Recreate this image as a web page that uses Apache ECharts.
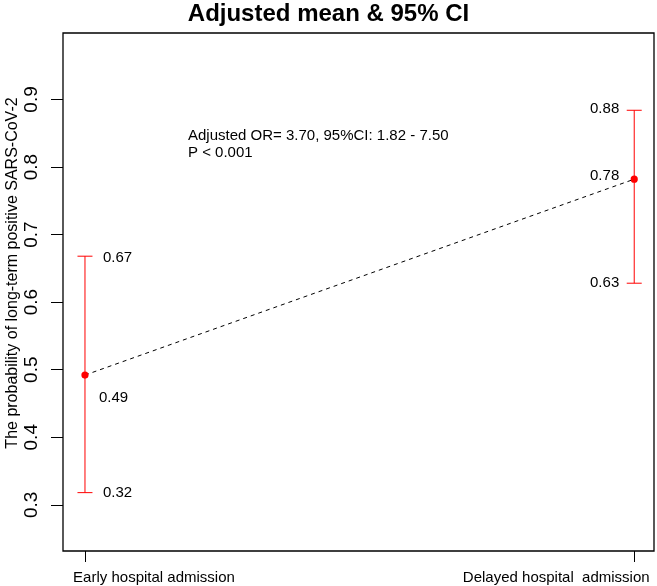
<!DOCTYPE html>
<html>
<head>
<meta charset="utf-8">
<script src="https://cdn.jsdelivr.net/npm/echarts@6/dist/echarts.min.js"></script>
<style>html,body{margin:0;padding:0;background:#fff}#c{width:657px;height:586px}</style>
</head>
<body>
<div id="c"></div>
<script>
// ---- data ----
const categories = ['Early hospital admission', 'Delayed hospital  admission'];
const categoryPos = [1, 2];
const means = [0.492, 0.782];
const lowers = [0.318, 0.628];
const uppers = [0.668, 0.884];
const yTicks = [0.3, 0.4, 0.5, 0.6, 0.7, 0.8, 0.9];
const annotation = ['Adjusted OR= 3.70, 95%CI: 1.82 - 7.50', 'P < 0.001'];
const titleText = 'Adjusted mean & 95% CI';
const yTitle = 'The probability of long-term positive SARS-CoV-2';

// ---- styling ----
const labelSide = ['right', 'left'];
const FONT = '"Liberation Sans", Arial, Helvetica, sans-serif';
const RED = '#ff0000';

const chart = echarts.init(document.getElementById('c'), null, {renderer: 'canvas'});

const errData = categoryPos.map((x, i) => [x, means[i], lowers[i], uppers[i], i]);

function renderErr(params, api) {
  const x = api.value(0), m = api.value(1), lo = api.value(2), hi = api.value(3), i = api.value(4);
  const pm = api.coord([x, m]);
  const pl = api.coord([x, lo]);
  const ph = api.coord([x, hi]);
  const cw = 7.5;
  const side = labelSide[i];
  const ls = {stroke: RED, lineWidth: 1};
  const children = [
    {type: 'line', shape: {x1: pm[0], y1: ph[1], x2: pm[0], y2: pl[1]}, style: ls},
    {type: 'line', shape: {x1: pm[0] - cw, y1: ph[1], x2: pm[0] + cw, y2: ph[1]}, style: ls},
    {type: 'line', shape: {x1: pm[0] - cw, y1: pl[1], x2: pm[0] + cw, y2: pl[1]}, style: ls},
    {type: 'circle', shape: {cx: pm[0], cy: pm[1], r: 3.6}, style: {fill: RED}, z2: 10}
  ];
  const ts = (txt, x0, y0, align) => ({type: 'text', x: x0, y: y0, style: {text: txt, fill: '#000', font: '15px ' + FONT, align: align, verticalAlign: 'middle'}});
  if (side === 'right') {
    children.push(ts(hi.toFixed(2), pm[0] + 18, ph[1] + 2, 'left'));
    children.push(ts(m.toFixed(2), pm[0] + 14, pm[1] + 23, 'left'));
    children.push(ts(lo.toFixed(2), pm[0] + 18, pl[1], 'left'));
  } else {
    children.push(ts(hi.toFixed(2), pm[0] - 15, ph[1] - 1, 'right'));
    children.push(ts(m.toFixed(2), pm[0] - 15, pm[1] - 3, 'right'));
    children.push(ts(lo.toFixed(2), pm[0] - 15, pl[1], 'right'));
  }
  return {type: 'group', children: children};
}

chart.setOption({
  animation: false,
  backgroundColor: '#fff',
  title: {
    text: titleText, left: 'center', top: 2, padding: 0,
    textStyle: {fontFamily: FONT, fontSize: 24, fontWeight: 'bold', color: '#000'}
  },
  grid: {left: 63, right: 3, top: 33, bottom: 35, show: true, borderColor: '#000', borderWidth: 1.3,
         backgroundColor: 'transparent', containLabel: false, outerBoundsMode: 'none'},
  xAxis: {
    type: 'value', min: 0.96, max: 2.036,
    axisLine: {show: false},
    splitLine: {show: false},
    axisTick: {show: true, length: 11, customValues: categoryPos, lineStyle: {color: '#000', width: 1}},
    axisLabel: {
      customValues: categoryPos, margin: 19, color: '#000', fontFamily: FONT, fontSize: 15,
      formatter: v => (v === 1 ? '{a|' + categories[0] + '}' : '{b|' + categories[1] + '}'),
      rich: {
        a: {fontFamily: FONT, fontSize: 15, color: '#000', padding: [0, 0, 0, 138]},
        b: {fontFamily: FONT, fontSize: 15, color: '#000', padding: [0, 156, 0, 0]}
      }
    }
  },
  yAxis: {
    type: 'value', min: 0.2316, max: 0.9984,
    axisLine: {show: false},
    splitLine: {show: false},
    axisTick: {show: true, length: 12, customValues: yTicks, lineStyle: {color: '#000', width: 1}},
    axisLabel: {
      customValues: yTicks, rotate: 90, margin: 22, color: '#000', fontFamily: FONT, fontSize: 19,
      formatter: v => v.toFixed(1)
    },
    name: yTitle, nameLocation: 'middle', nameRotate: 90, nameGap: 42, nameMoveOverlap: false,
    nameTextStyle: {fontFamily: FONT, fontSize: 16, color: '#000', padding: [0, 0, 0, 38]}
  },
  series: [
    {
      type: 'line', data: categoryPos.map((x, i) => [x, means[i]]),
      symbol: 'none', z: 2,
      lineStyle: {color: '#000', width: 1, type: [4, 4]}
    },
    {
      type: 'custom', data: errData, renderItem: renderErr, z: 3,
      encode: {x: 0, y: [1, 2, 3]}
    }
  ],
  graphic: [
    {type: 'text', left: 188, top: 127, style: {text: annotation.join('\n'), font: '15px ' + FONT, fill: '#000', lineHeight: 17}}
  ]
});
</script>
</body>
</html>
